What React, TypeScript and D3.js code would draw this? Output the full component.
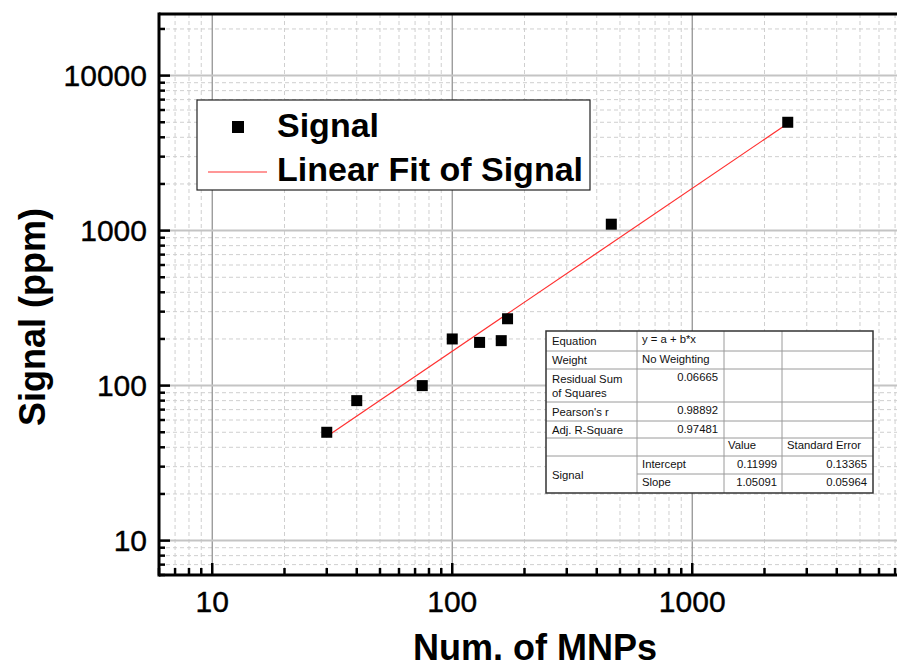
import * as d3 from 'd3';

// measured data (Num. of MNPs vs Signal)
const mnps = [30, 40, 75, 100, 130, 160, 170, 460, 2500];
const signal = [50, 80, 100, 200, 190, 195, 270, 1100, 5000];

// linear fit in log-log space
const fitIntercept = 0.11999;
const fitSlope = 1.05091;

const xMajorTicks = [10, 100, 1000];
const yMajorTicks = [10, 100, 1000, 10000];
const yTickLabels = ['10', '100', '1000', '10000'];
const xTickLabels = ['10', '100', '1000'];

const tableLabels = ['Equation', 'Weight', 'Residual Sum|of Squares', "Pearson's r", 'Adj. R-Square'];
const tableValues = ['y = a + b*x', 'No Weighting', '0.06665', '0.98892', '0.97481'];
const paramNames = ['Intercept', 'Slope'];
const paramValues = ['0.11999', '1.05091'];
const paramErrors = ['0.13365', '0.05964'];

const W = 897;
const H = 670;
const left = 159;
const top = 14;
const bottom = 575;

const font = 'Arial, "Liberation Sans", sans-serif';

const x = d3.scaleLog()
  .domain([6, 8000])
  .range([left, left + (Math.log10(8000) - Math.log10(6)) * 240]);
const y = d3.scaleLog()
  .domain([6, 25000])
  .range([bottom, bottom - (Math.log10(25000) - Math.log10(6)) * 155]);

// minor ticks in every decade
const minorX: number[] = [];
const minorY: number[] = [];
for (let p = 0; p <= 4; p++) {
  for (let m = 2; m <= 9; m++) {
    const v = m * Math.pow(10, p);
    if (v >= 6 && v <= 8000) minorX.push(v);
    if (v >= 6 && v <= 25000) minorY.push(v);
  }
}

const rowY = [331, 351, 369, 402, 421, 438, 456, 474, 493];
const colX = [546, 637, 724, 782, 873];

const App = () => {
  const fitX = d3.extent(mnps) as [number, number];
  const fitLine = d3.line<number>()
    .x(d => x(d))
    .y(d => y(Math.pow(10, fitIntercept + fitSlope * Math.log10(d))));

  return (
    <svg width={W} height={H} style={{position: 'absolute', left: 0, top: 0, background: '#fff'}} fontFamily={font}>
      <defs>
        <clipPath id="plot">
          <rect x={left} y={top} width={W - left} height={bottom - top} />
        </clipPath>
      </defs>

      <g clipPath="url(#plot)">
        {minorX.map(v => (
          <line key={'gx' + v} x1={x(v)} x2={x(v)} y1={top} y2={bottom} stroke="#cfcfcf" strokeDasharray="4,3" />
        ))}
        {minorY.map(v => (
          <line key={'gy' + v} x1={left} x2={W} y1={y(v)} y2={y(v)} stroke="#cfcfcf" strokeDasharray="4,3" />
        ))}
        {xMajorTicks.map(v => (
          <line key={'Gx' + v} x1={x(v)} x2={x(v)} y1={top} y2={bottom} stroke="#8c8c8c" strokeWidth={1.2} />
        ))}
        {yMajorTicks.map(v => (
          <line key={'Gy' + v} x1={left} x2={W} y1={y(v)} y2={y(v)} stroke="#c4c4c4" strokeWidth={2} />
        ))}

        <path d={fitLine(fitX) || ''} fill="none" stroke="#ff3030" strokeWidth={1.2} />

        {mnps.map((v, i) => (
          <rect key={'p' + i} x={x(v) - 5.5} y={y(signal[i]) - 5.5} width={11} height={11} fill="#000" />
        ))}
      </g>

      {/* axes */}
      <line x1={left} x2={W} y1={top} y2={top} stroke="#000" strokeWidth={3} />
      <line x1={left} x2={W} y1={bottom} y2={bottom} stroke="#000" strokeWidth={3} />
      <line x1={left} x2={left} y1={top - 1.5} y2={bottom + 1.5} stroke="#000" strokeWidth={3} />

      {xMajorTicks.map(v => (
        <line key={'tx' + v} x1={x(v)} x2={x(v)} y1={bottom} y2={bottom - 12} stroke="#000" strokeWidth={2.5} />
      ))}
      {minorX.map(v => (
        <line key={'mtx' + v} x1={x(v)} x2={x(v)} y1={bottom} y2={bottom - 7} stroke="#000" strokeWidth={2.5} />
      ))}
      {yMajorTicks.map(v => (
        <line key={'ty' + v} x1={left} x2={left + 11} y1={y(v)} y2={y(v)} stroke="#000" strokeWidth={2.5} />
      ))}
      {minorY.map(v => (
        <line key={'mty' + v} x1={left} x2={left + 6} y1={y(v)} y2={y(v)} stroke="#000" strokeWidth={2.5} />
      ))}

      {xMajorTicks.map((v, i) => (
        <text key={'lx' + v} x={x(v)} y={612} textAnchor="middle" fontSize={30} fill="#000" stroke="#000" strokeWidth={0.4}>{xTickLabels[i]}</text>
      ))}
      {yMajorTicks.map((v, i) => (
        <text key={'ly' + v} x={147} y={y(v) + 10.5} textAnchor="end" fontSize={30} fill="#000" stroke="#000" strokeWidth={0.4}>{yTickLabels[i]}</text>
      ))}

      <text x={535} y={660} textAnchor="middle" fontSize={36} fontWeight="bold" fill="#000">Num. of MNPs</text>
      <text transform="translate(45,317) rotate(-90)" textAnchor="middle" fontSize={36} fontWeight="bold" fill="#000">Signal (ppm)</text>

      {/* legend */}
      <rect x={197} y={100} width={393} height={90} fill="#fff" stroke="#222" strokeWidth={1.2} />
      <rect x={232} y={121} width={12} height={12} fill="#000" />
      <line x1={208} x2={267} y1={172} y2={172} stroke="#ff3030" strokeWidth={1.2} />
      <text x={277} y={137} fontSize={34} fontWeight="bold" fill="#000">Signal</text>
      <text x={277} y={181} fontSize={34} fontWeight="bold" fill="#000">Linear Fit of Signal</text>

      {/* fit table */}
      <rect x={colX[0]} y={rowY[0]} width={colX[4] - colX[0]} height={rowY[8] - rowY[0]} fill="#fff" />
      {rowY.slice(1, 8).map((ry, i) => (
        <line key={'hr' + i} x1={i === 6 ? colX[1] : colX[0]} x2={colX[4]} y1={ry} y2={ry} stroke="#9a9a9a" strokeWidth={1} />
      ))}
      {colX.slice(1, 4).map((cx, i) => (
        <line key={'vc' + i} x1={cx} x2={cx} y1={rowY[0]} y2={rowY[8]} stroke="#9a9a9a" strokeWidth={1} />
      ))}
      <rect x={colX[0]} y={rowY[0]} width={colX[4] - colX[0]} height={rowY[8] - rowY[0]} fill="none" stroke="#333" strokeWidth={1.5} />

      <g fontSize={11.3} fill="#111">
        {tableLabels.map((t, i) => {
          const parts = t.split('|');
          const cy = parts.length > 1 ? rowY[i] + 14 : (rowY[i] + rowY[i + 1]) / 2 + 4;
          return parts.map((p, j) => (
            <text key={'tl' + i + j} x={552} y={cy + j * 14}>{p}</text>
          ));
        })}
        {tableValues.map((t, i) => (
          i < 2
            ? <text key={'tv' + i} x={642} y={rowY[i] + 12}>{t}</text>
            : <text key={'tv' + i} x={718} y={rowY[i] + 12} textAnchor="end">{t}</text>
        ))}
        <text x={728} y={449}>Value</text>
        <text x={787} y={449}>Standard Error</text>
        <text x={552} y={479}>Signal</text>
        {paramNames.map((t, i) => (
          <text key={'pn' + i} x={642} y={rowY[6 + i] + 12}>{t}</text>
        ))}
        {paramValues.map((t, i) => (
          <text key={'pv' + i} x={777} y={rowY[6 + i] + 12} textAnchor="end">{t}</text>
        ))}
        {paramErrors.map((t, i) => (
          <text key={'pe' + i} x={867} y={rowY[6 + i] + 12} textAnchor="end">{t}</text>
        ))}
      </g>
    </svg>
  );
};

export default App;
